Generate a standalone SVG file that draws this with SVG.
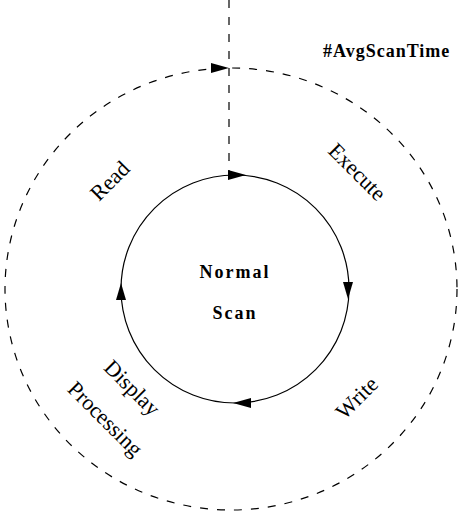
<svg xmlns="http://www.w3.org/2000/svg" width="459" height="518" viewBox="0 0 459 518">
<style>
.dash{fill:none;stroke:#000;stroke-width:1.2;stroke-dasharray:8 9}
.solid{fill:none;stroke:#000;stroke-width:1.2}
.lbl{font-family:"Liberation Serif","Times New Roman",serif;font-size:22px;fill:#000}
.bold{font-family:"Liberation Serif","Times New Roman",serif;font-size:18px;font-weight:bold;fill:#000;letter-spacing:1px}
.ah{fill:#000}
</style>
<rect width="459" height="518" fill="#fff"/>
<g id="connectors">
<ellipse id="outer" class="dash" cx="231" cy="289" rx="226" ry="221"/>
<line class="dash" x1="229" y1="0" x2="229" y2="175"/>
<circle id="inner" class="solid" cx="235" cy="289" r="114"/>
<polygon class="ah" points="211,63 229,68 211,73"/>
<polygon class="ah" points="228,170 246,175 228,180"/>
<polygon class="ah" points="343,282 348,299 353,282"/>
<polygon class="ah" points="251,398 233,403 251,408"/>
<polygon class="ah" points="116,300 121,283 126,300"/>
</g>
<g id="title"><text class="bold" x="323" y="57">#AvgScanTime</text></g>
<g id="center"><text class="bold" x="235" y="278" text-anchor="middle" style="letter-spacing:2px">Normal</text><text class="bold" x="235" y="319" text-anchor="middle" style="letter-spacing:2px">Scan</text></g>
<g id="read"><text class="lbl" text-anchor="middle" transform="translate(115,186) rotate(-45)">Read</text></g>
<g id="execute"><text class="lbl" text-anchor="middle" transform="translate(352,177) rotate(45)">Execute</text></g>
<g id="write"><text class="lbl" text-anchor="middle" transform="translate(362,403) rotate(-45)">Write</text></g>
<g id="display"><text class="lbl" text-anchor="middle" transform="translate(127,393) rotate(45)">Display</text><text class="lbl" text-anchor="middle" transform="translate(100,424) rotate(45)">Processing</text></g>
</svg>
